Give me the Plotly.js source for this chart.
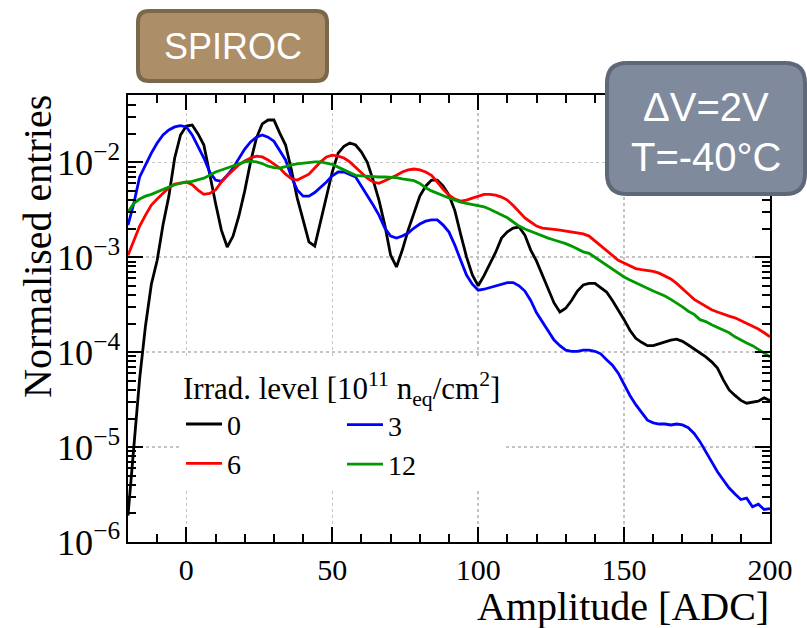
<!DOCTYPE html>
<html>
<head>
<meta charset="utf-8">
<script src="https://cdn.plot.ly/plotly-3.0.1.min.js"></script>
<style>html,body{margin:0;padding:0;background:#fff;}#chart{width:807px;height:628px;}</style>
</head>
<body>
<div id="chart"></div>
<script>
// Amplitude bins [ADC]
const amplitude = [
  -20,-18,-16,-14,-12,-10,-8,-6,-4,-2,
  0,2,4,6,8,10,12,14,16,18,
  20,22,24,26,28,30,32,34,36,38,
  40,42,44,46,48,50,52,54,56,58,
  60,62,64,66,68,70,72,74,76,78,
  80,82,84,86,88,90,92,94,96,98,
  100,102,104,106,108,110,112,114,116,118,
  120,122,124,126,128,130,132,134,136,138,
  140,142,144,146,148,150,152,154,156,158,
  160,162,164,166,168,170,172,174,176,178,
  180,182,184,186,188,190,192,194,196,198,
  200
];

// Irradiation level 0
const irr0 = [
  1.9e-6,9.3e-6,5.3e-5,1.9e-4,5.2e-4,9.3e-4,2.2e-3,4.4e-3,1.11e-2,1.94e-2,
  2.41e-2,2.47e-2,1.99e-2,1.52e-2,7.3e-3,3.7e-3,1.93e-3,1.28e-3,1.67e-3,2.72e-3,
  5.0e-3,1.01e-2,1.80e-2,2.54e-2,2.79e-2,2.79e-2,2.03e-2,1.52e-2,8.3e-3,4.2e-3,
  2.47e-3,1.45e-3,1.31e-3,2.35e-3,4.4e-3,7.9e-3,1.25e-2,1.47e-2,1.60e-2,1.52e-2,
  1.28e-2,1.00e-2,6.5e-3,4.0e-3,2.18e-3,1.05e-3,7.9e-4,1.19e-3,1.93e-3,3.0e-3,
  4.4e-3,5.6e-3,6.5e-3,6.5e-3,5.6e-3,4.5e-3,3.1e-3,1.74e-3,1.01e-3,6.5e-4,
  5.0e-4,6.4e-4,8.5e-4,1.13e-3,1.59e-3,1.85e-3,2.03e-3,2.08e-3,1.71e-3,1.19e-3,
  9.1e-4,6.4e-4,4.5e-4,3.3e-4,2.65e-4,2.9e-4,3.5e-4,4.4e-4,5.1e-4,5.3e-4,
  5.3e-4,4.8e-4,4.3e-4,3.5e-4,2.8e-4,2.2e-4,1.7e-4,1.4e-4,1.27e-4,1.17e-4,
  1.17e-4,1.22e-4,1.27e-4,1.34e-4,1.37e-4,1.30e-4,1.19e-4,1.08e-4,1.0e-4,8.9e-5,
  7.9e-5,6.8e-5,5.1e-5,4.0e-5,3.5e-5,3.1e-5,2.9e-5,3.0e-5,3.05e-5,3.3e-5,
  3.1e-5
];

// Irradiation level 3
const irr3 = [
  2.18e-3,3.7e-3,7.0e-3,9.4e-3,1.25e-2,1.60e-2,1.94e-2,2.19e-2,2.36e-2,2.43e-2,
  2.36e-2,1.94e-2,1.45e-2,1.11e-2,7.9e-3,6.5e-3,6.3e-3,7.3e-3,8.7e-3,1.11e-2,
  1.38e-2,1.64e-2,1.84e-2,1.94e-2,1.84e-2,1.67e-2,1.35e-2,1.06e-2,7.0e-3,5.1e-3,
  4.4e-3,4.4e-3,4.8e-3,5.4e-3,6.2e-3,7.2e-3,7.9e-3,7.9e-3,7.5e-3,7.0e-3,
  5.6e-3,4.5e-3,3.55e-3,2.78e-3,2.03e-3,1.67e-3,1.59e-3,1.67e-3,1.80e-3,2.03e-3,
  2.24e-3,2.4e-3,2.47e-3,2.47e-3,2.18e-3,1.84e-3,1.34e-3,9.3e-4,6.5e-4,5.2e-4,
  4.5e-4,4.6e-4,4.8e-4,5.0e-4,5.2e-4,5.4e-4,5.4e-4,5.0e-4,4.4e-4,3.5e-4,
  2.6e-4,2.1e-4,1.67e-4,1.34e-4,1.17e-4,1.05e-4,1.02e-4,1.02e-4,1.05e-4,1.05e-4,
  1.02e-4,9.6e-5,8.3e-5,7.3e-5,6.0e-5,4.6e-5,3.5e-5,2.8e-5,2.3e-5,1.92e-5,
  1.8e-5,1.75e-5,1.75e-5,1.71e-5,1.75e-5,1.71e-5,1.6e-5,1.39e-5,1.14e-5,8.9e-6,
  7.0e-6,5.5e-6,4.5e-6,3.7e-6,3.2e-6,2.8e-6,2.9e-6,2.35e-6,2.5e-6,2.2e-6,
  2.25e-6
];

// Irradiation level 6
const irr6 = [
  1.05e-3,1.52e-3,2.13e-3,2.78e-3,3.55e-3,4.1e-3,4.7e-3,5.4e-3,5.9e-3,6.1e-3,
  6.2e-3,5.8e-3,5.1e-3,4.6e-3,4.7e-3,5.1e-3,6.2e-3,7.2e-3,8.3e-3,9.4e-3,
  1.03e-2,1.11e-2,1.16e-2,1.14e-2,1.06e-2,9.6e-3,8.7e-3,7.5e-3,6.7e-3,6.5e-3,
  7.0e-3,7.5e-3,8.7e-3,1.01e-2,1.14e-2,1.19e-2,1.16e-2,1.11e-2,1.01e-2,8.9e-3,
  7.7e-3,6.8e-3,6.2e-3,6.0e-3,6.4e-3,6.8e-3,7.3e-3,7.9e-3,8.3e-3,8.5e-3,
  8.3e-3,7.9e-3,7.3e-3,6.2e-3,5.2e-3,4.5e-3,4.1e-3,3.9e-3,4.0e-3,4.2e-3,
  4.4e-3,4.6e-3,4.6e-3,4.5e-3,4.3e-3,4.0e-3,3.5e-3,3.0e-3,2.59e-3,2.35e-3,
  2.13e-3,2.03e-3,1.98e-3,1.96e-3,1.93e-3,1.89e-3,1.84e-3,1.80e-3,1.76e-3,1.67e-3,
  1.48e-3,1.34e-3,1.19e-3,1.05e-3,9.3e-4,8.7e-4,8.1e-4,7.6e-4,7.4e-4,7.3e-4,
  7.1e-4,6.8e-4,6.3e-4,5.9e-4,5.3e-4,4.7e-4,4.1e-4,3.6e-4,3.3e-4,3.0e-4,
  2.8e-4,2.65e-4,2.5e-4,2.4e-4,2.3e-4,2.15e-4,2.0e-4,1.9e-4,1.75e-4,1.6e-4,
  1.45e-4
];

// Irradiation level 12
const irr12 = [
  3.0e-3,3.7e-3,4.1e-3,4.4e-3,4.6e-3,4.9e-3,5.2e-3,5.5e-3,5.8e-3,6.0e-3,
  6.2e-3,6.3e-3,6.5e-3,6.8e-3,7.3e-3,7.9e-3,8.3e-3,8.7e-3,9.1e-3,9.7e-3,
  1.01e-2,1.03e-2,1.01e-2,9.7e-3,9.1e-3,8.8e-3,8.7e-3,9.0e-3,9.4e-3,9.6e-3,
  9.8e-3,1.00e-2,1.01e-2,1.01e-2,9.8e-3,9.5e-3,8.9e-3,8.3e-3,7.7e-3,7.3e-3,
  7.2e-3,7.1e-3,7.0e-3,7.0e-3,7.0e-3,7.0e-3,6.9e-3,6.7e-3,6.6e-3,6.4e-3,
  6.0e-3,5.4e-3,5.0e-3,4.7e-3,4.5e-3,4.2e-3,4.0e-3,3.8e-3,3.7e-3,3.6e-3,
  3.55e-3,3.4e-3,3.2e-3,3.0e-3,2.8e-3,2.6e-3,2.35e-3,2.13e-3,1.98e-3,1.87e-3,
  1.76e-3,1.67e-3,1.59e-3,1.52e-3,1.46e-3,1.39e-3,1.31e-3,1.23e-3,1.14e-3,1.10e-3,
  1.00e-3,8.9e-4,8.1e-4,7.5e-4,6.8e-4,6.2e-4,5.75e-4,5.35e-4,5.0e-4,4.7e-4,
  4.4e-4,4.15e-4,3.9e-4,3.6e-4,3.3e-4,3.0e-4,2.7e-4,2.5e-4,2.2e-4,2.1e-4,
  1.94e-4,1.82e-4,1.71e-4,1.6e-4,1.45e-4,1.34e-4,1.25e-4,1.17e-4,1.08e-4,9.8e-5,
  8.9e-5
];

const seriesNames = ['0', '3', '6', '12'];
const seriesColors = ['#000000', '#0000ff', '#ff0000', '#009a00'];

// ---- geometry helpers (pixel -> paper) ----
const PL = 128, PR = 770, PT = 95, PB = 542;
const X = px => (px - PL) / (PR - PL);
const Y = py => (PB - py) / (PB - PT);
function roundRect(x0, y0, x1, y1, r) {
  return 'M' + X(x0 + r) + ',' + Y(y0) +
    ' L' + X(x1 - r) + ',' + Y(y0) +
    ' Q' + X(x1) + ',' + Y(y0) + ' ' + X(x1) + ',' + Y(y0 + r) +
    ' L' + X(x1) + ',' + Y(y1 - r) +
    ' Q' + X(x1) + ',' + Y(y1) + ' ' + X(x1 - r) + ',' + Y(y1) +
    ' L' + X(x0 + r) + ',' + Y(y1) +
    ' Q' + X(x0) + ',' + Y(y1) + ' ' + X(x0) + ',' + Y(y1 - r) +
    ' L' + X(x0) + ',' + Y(y0 + r) +
    ' Q' + X(x0) + ',' + Y(y0) + ' ' + X(x0 + r) + ',' + Y(y0) + ' Z';
}

const serif = 'Liberation Serif, Times New Roman, serif';
const sans = 'Liberation Sans, Arial, sans-serif';

const allY = [irr0, irr3, irr6, irr12];
const legendOf = ['legend', 'legend2', 'legend', 'legend2'];
const traces = allY.map((yv, i) => ({
  type: 'scatter', mode: 'lines',
  x: amplitude, y: yv,
  name: seriesNames[i],
  legend: legendOf[i],
  legendgroup: 'g' + i,
  line: {color: seriesColors[i], width: 2.8, shape: 'linear'}
}));

const axisCommon = {
  showline: true, linecolor: '#000', linewidth: 2, mirror: 'ticks',
  ticks: 'inside', ticklen: 15, tickwidth: 2, tickcolor: '#000',
  showgrid: true, gridcolor: '#c4c4c4', griddash: 'dot', gridwidth: 1.5,
  zeroline: false,
  tickfont: {family: serif, size: 30, color: '#000'}
};

const layout = {
  width: 807, height: 628,
  margin: {l: PL, r: 807 - PR, t: PT, b: 628 - PB, pad: 0},
  paper_bgcolor: '#fff', plot_bgcolor: '#fff',
  showlegend: true,
  xaxis: Object.assign({}, axisCommon, {
    range: [-20, 200], tick0: 0, dtick: 50,
    minor: {ticks: 'inside', dtick: 10, tick0: 0, ticklen: 8, tickwidth: 2, tickcolor: '#000', showgrid: false}
  }),
  yaxis: Object.assign({}, axisCommon, {
    type: 'log', range: [-6, -1.291], dtick: 1, exponentformat: 'power',
    tickfont: {family: serif, size: 29, color: '#000'},
    minor: {ticks: 'inside', dtick: 'D1', ticklen: 8, tickwidth: 2, tickcolor: '#000', showgrid: false}
  }),
  legend: {
    x: X(181), y: Y(359), xanchor: 'left', yanchor: 'top',
    bgcolor: '#ffffff', borderwidth: 0, itemwidth: 36,
    font: {family: serif, size: 28, color: '#000'},
    title: {text: 'Irrad. level [10<sup>11</sup> n<sub>eq</sub>/cm<sup>2</sup>]', font: {family: serif, size: 31, color: '#000'}, side: 'top'},
    tracegroupgap: 9, traceorder: 'normal'
  },
  legend2: {
    x: X(342), y: Y(400), xanchor: 'left', yanchor: 'top',
    bgcolor: 'rgba(0,0,0,0)', borderwidth: 0, itemwidth: 36,
    font: {family: serif, size: 28, color: '#000'},
    tracegroupgap: 9, traceorder: 'normal'
  },
  shapes: [
    {type: 'path', xref: 'paper', yref: 'paper', path: roundRect(138, 11, 327, 81, 11),
     fillcolor: '#ac8e68', line: {color: '#7b6749', width: 4}, layer: 'above'},
    {type: 'path', xref: 'paper', yref: 'paper', path: roundRect(607, 63, 805, 194, 20),
     fillcolor: '#7f8a9d', line: {color: '#5e6878', width: 4}, layer: 'above'}
  ],
  annotations: [
    {xref: 'paper', yref: 'paper', x: X(232.5), y: Y(47), text: 'SPIROC', showarrow: false,
     xanchor: 'center', yanchor: 'middle', font: {family: sans, size: 36, color: '#fff'}},
    {xref: 'paper', yref: 'paper', x: X(706), y: Y(107), text: '\u0394V=2V', showarrow: false,
     xanchor: 'center', yanchor: 'middle', font: {family: sans, size: 40, color: '#fff'}},
    {xref: 'paper', yref: 'paper', x: X(706), y: Y(157), text: 'T=-40\u00B0C', showarrow: false,
     xanchor: 'center', yanchor: 'middle', font: {family: sans, size: 40, color: '#fff'}},
    {xref: 'paper', yref: 'paper', x: X(37), y: Y(247), text: 'Normalised entries', showarrow: false,
     textangle: -90, xanchor: 'center', yanchor: 'middle', font: {family: serif, size: 40, color: '#000'}},
    {xref: 'paper', yref: 'paper', x: X(771), y: Y(606), text: 'Amplitude [ADC]', showarrow: false,
     xanchor: 'right', yanchor: 'middle', font: {family: serif, size: 40, color: '#000'}}
  ]
};

Plotly.newPlot('chart', traces, layout, {displayModeBar: false, staticPlot: true});
</script>
</body>
</html>
